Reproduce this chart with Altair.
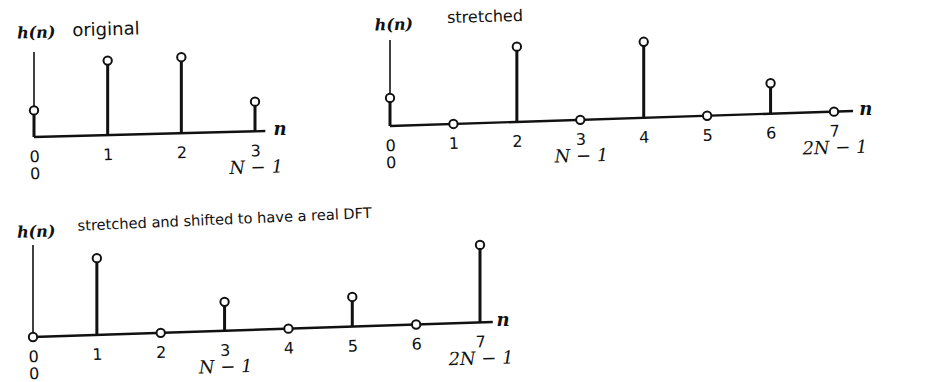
import altair as alt
import pandas as pd

# h(n) samples of the original length-N filter
n_orig = [0, 1, 2, 3]
h_orig = [0.35, 0.98, 1.0, 0.39]

# length-2N index for the stretched versions
n_long = [0, 1, 2, 3, 4, 5, 6, 7]
h_stretched = [0.37, 0.0, 0.99, 0.0, 1.0, 0.0, 0.4, 0.0]
h_shifted = [0.0, 1.01, 0.0, 0.38, 0.0, 0.39, 0.0, 1.02]

captions = ["original", "stretched", "stretched and shifted to have a real DFT"]

# second row of index labels under the n axis
formula_pos_orig = [3]
formula_txt_orig = ["N − 1"]
formula_pos_long = [3, 7]
formula_txt_long = ["N − 1", "2N − 1"]
zero_row = [0]

SANS = "DejaVu Sans"
SERIF = "DejaVu Serif"
INK = "#111111"
UNIT = 76        # pixels per unit of h(n)
ANGLE = 358.3    # the printed page sits slightly rotated
ONE_ROW = alt.Data(values=[{}])


def stem_panel(n, h, caption, cap_size, x_px, base_px, drift, axis_end, n_label_x,
               axis_top, hn_pos, cap_pos, cap_angle, formula_pos, formula_txt):
    """One stem plot; `drift` is how far the n axis climbs per sample (h units)."""
    xs = alt.Scale(domain=[0, n[-1]], range=list(x_px), nice=False, zero=False)
    ys = alt.Scale(domain=[0, 1], range=[base_px, base_px - UNIT], nice=False, zero=False)

    def xf(field):
        return alt.X(field, type="quantitative", scale=xs, axis=None)

    def yf(field):
        return alt.Y(field, type="quantitative", scale=ys, axis=None)

    def xd(v):
        return alt.XDatum(v, scale=xs, axis=None)

    def yd(v):
        return alt.YDatum(v, scale=ys, axis=None)

    samples = pd.DataFrame({"n": n, "h": h, "label": [str(v) for v in n]})
    formulas = pd.DataFrame({"n": formula_pos, "label": formula_txt})
    zeros = pd.DataFrame({"n": zero_row, "label": [str(v) for v in zero_row]})

    def on_axis(chart):
        return chart.transform_calculate(base=f"{drift} * datum.n")

    n_axis = alt.Chart(ONE_ROW).mark_rule(color=INK, strokeWidth=2.4).encode(
        x=xd(0), x2=alt.X2Datum(axis_end), y=yd(0), y2=alt.Y2Datum(drift * axis_end)
    )
    h_axis = alt.Chart(ONE_ROW).mark_rule(color=INK, strokeWidth=1.6).encode(
        x=xd(0), y=yd(0), y2=alt.Y2Datum(axis_top)
    )
    stems = on_axis(alt.Chart(samples)).transform_filter("datum.h > 0").transform_calculate(
        top="datum.base + datum.h"
    ).mark_rule(color=INK, strokeWidth=3).encode(
        x=xf("n"), y=yf("top"), y2="base:Q"
    )
    heads = on_axis(alt.Chart(samples)).transform_calculate(
        top="datum.base + datum.h"
    ).mark_point(
        shape="circle", size=70, filled=True, fill="white", stroke=INK,
        strokeWidth=2, opacity=1
    ).encode(x=xf("n"), y=yf("top"))
    index_labels = on_axis(alt.Chart(samples)).mark_text(
        font=SANS, fontSize=16, color=INK, dy=20, baseline="middle", align="center",
        angle=ANGLE
    ).encode(x=xf("n"), y=yf("base"), text="label:N")
    zero_labels = on_axis(alt.Chart(zeros)).mark_text(
        font=SANS, fontSize=16, color=INK, dy=37, baseline="middle", align="center",
        angle=ANGLE
    ).encode(x=xf("n"), y=yf("base"), text="label:N")
    formula_labels = on_axis(alt.Chart(formulas)).mark_text(
        font=SERIF, fontStyle="italic", fontSize=18, color=INK, dy=37,
        baseline="middle", align="center", angle=ANGLE
    ).encode(x=xf("n"), y=yf("base"), text="label:N")
    n_name = alt.Chart(ONE_ROW).mark_text(
        text="n", font=SERIF, fontStyle="italic", fontWeight="bold", fontSize=18,
        color=INK, dy=-1, baseline="middle", align="center"
    ).encode(x=xd(n_label_x), y=yd(drift * n_label_x))
    h_name = alt.Chart(ONE_ROW).mark_text(
        text="h(n)", font=SERIF, fontStyle="italic", fontWeight="bold", fontSize=16,
        color=INK, baseline="middle", align="center", angle=ANGLE
    ).encode(x=xd(hn_pos[0]), y=yd(hn_pos[1]))
    cap = alt.Chart(ONE_ROW).mark_text(
        text=caption, font=SANS, fontSize=cap_size, color=INK, baseline="middle",
        align="left", angle=cap_angle
    ).encode(x=xd(cap_pos[0]), y=yd(cap_pos[1]))

    return alt.layer(n_axis, h_axis, stems, heads, index_labels, zero_labels,
                     formula_labels, n_name, h_name, cap)


p_orig = stem_panel(
    n_orig, h_orig, captions[0], 18, (34, 255), 137, 0.025, 3.14, 3.34, 1.12,
    (0.03, 1.37), (0.52, 1.39), ANGLE, formula_pos_orig, formula_txt_orig,
)
p_stretch = stem_panel(
    n_long, h_stretched, captions[1], 16, (390, 834), 126, 0.027, 7.3, 7.5, 1.13,
    (0.06, 1.33), (0.9, 1.42), ANGLE, formula_pos_long, formula_txt_long,
)
p_shift = stem_panel(
    n_long, h_shifted, captions[2], 14.6, (33, 480), 337, 0.0274, 7.2, 7.36, 1.21,
    (0.05, 1.38), (0.7, 1.45), 357.5, formula_pos_long, formula_txt_long,
)

chart = alt.layer(p_orig, p_stretch, p_shift).resolve_scale(
    x="independent", y="independent"
).properties(
    width=943, height=382, padding=0,
    autosize=alt.AutoSizeParams(type="none"),
    background="white",
).configure_view(strokeWidth=0)

chart.save("out.html", embed_options={"renderer": "svg", "actions": False})
